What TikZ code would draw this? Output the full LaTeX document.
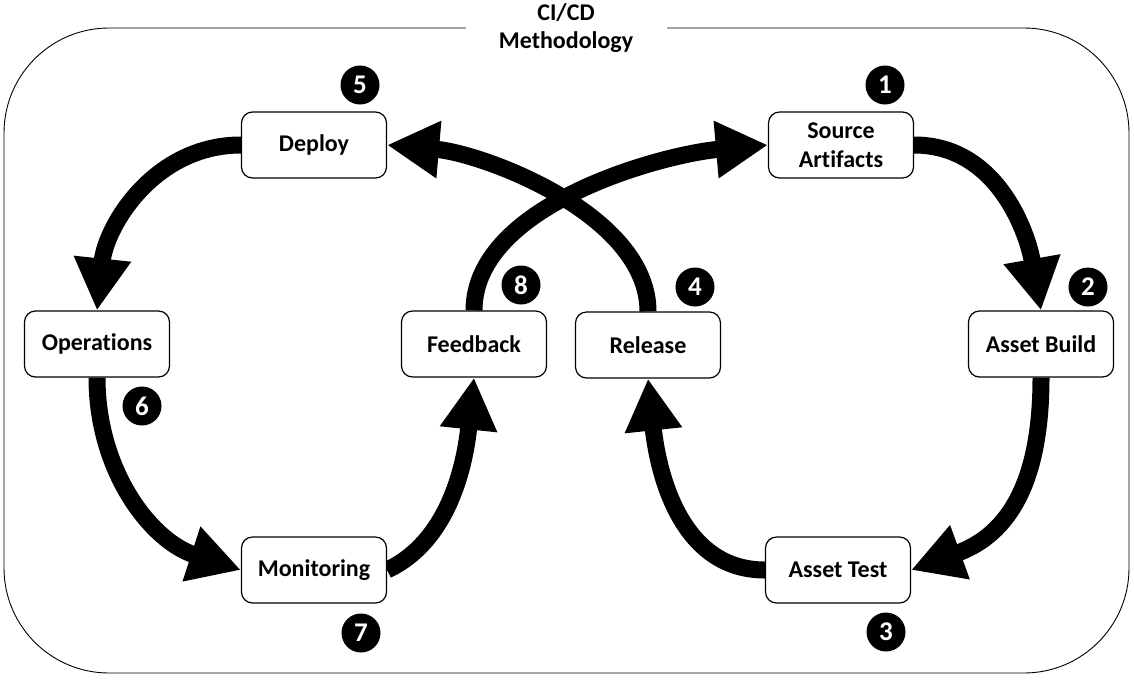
\documentclass[tikz,border=0pt]{standalone}
\usepackage{fontspec}
\setmainfont{Carlito}[Ligatures={NoCommon}]
\usetikzlibrary{arrows.meta}
\pgfdeclarelayer{nodelayer}
\pgfdeclarelayer{edgelayer}
\pgfsetlayers{edgelayer,nodelayer,main}
\tikzstyle{stage}=[fill=white, draw=black, line width=1.2pt, rounded corners=11pt, minimum width=145pt, minimum height=66pt, align=center, font=\fontsize{24}{29}\selectfont\bfseries]
\tikzstyle{badge}=[fill=black, draw=none, shape=circle, minimum size=39pt, inner sep=0pt, text=white, font=\fontsize{27}{30}\selectfont\bfseries]
\tikzstyle{heading}=[fill=white, draw=none, minimum width=201pt, inner sep=0pt, align=center, font=\fontsize{24}{28}\selectfont\bfseries]
\tikzstyle{border line}=[draw=black, line width=0.9pt, rounded corners=105pt]
\tikzstyle{flow edge}=[draw=black, line width=17pt, -{Triangle[length=52pt, width=54pt]}]

\begin{document}
\begin{tikzpicture}[x=1pt, y=1pt]
	\useasboundingbox (0, 0) rectangle (1134, -683);
	\begin{pgfonlayer}{nodelayer}
		\node [style=stage] (0) at (841, -145) {Source\\Artifacts};
		\node [style=stage] (1) at (1041, -344) {Asset Build};
		\node [style=stage] (2) at (838, -570) {Asset Test};
		\node [style=stage] (3) at (648, -345) {Release};
		\node [style=stage] (4) at (314, -145) {Deploy};
		\node [style=stage] (5) at (97, -344) {Operations};
		\node [style=stage] (6) at (314, -570) {Monitoring};
		\node [style=stage] (7) at (474, -344) {Feedback};
		\node [style=badge] (8) at (885, -85) {1};
		\node [style=badge] (9) at (1088, -287) {2};
		\node [style=badge] (10) at (886, -632) {3};
		\node [style=badge] (11) at (695, -287) {4};
		\node [style=badge] (12) at (360, -85) {5};
		\node [style=badge] (13) at (142, -406) {6};
		\node [style=badge] (14) at (361, -633) {7};
		\node [style=badge] (15) at (521, -285) {8};
		\node [style=heading] (16) at (566, -28) {CI/CD\\Methodology};
	\end{pgfonlayer}
	\begin{pgfonlayer}{edgelayer}
		\draw [style=border line] (4, -28) rectangle (1129, -673);
		\draw [style=flow edge, out=0, in=100] (0.east) to (1.north);
		\draw [style=flow edge, out=-90, in=20, looseness=1.15] (1.south) to (2.east);
		\draw [style=flow edge, out=180, in=-84] (2.west) to (3.south);
		\draw [style=flow edge, out=90, in=-5, looseness=0.8] (3.north) to (4.east);
		\draw [style=flow edge, out=180, in=84] (4.west) to (5.north);
		\draw [style=flow edge, out=-90, in=162] (5.south) to (6.west);
		\draw [style=flow edge, out=25, in=-96, looseness=0.9] (6.east) to (7.south);
		\draw [style=flow edge, out=90, in=185, looseness=0.8] (7.north) to (0.west);
	\end{pgfonlayer}
\end{tikzpicture}
\end{document}
